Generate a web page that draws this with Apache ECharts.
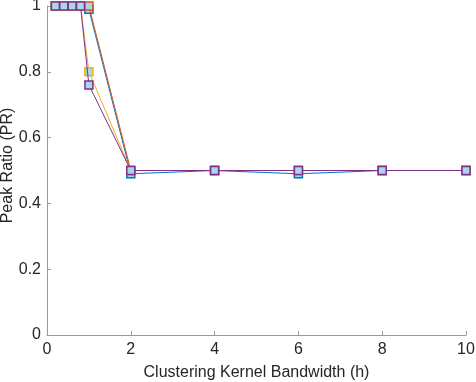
<!DOCTYPE html>
<html><head><meta charset="utf-8">
<script src="https://cdn.jsdelivr.net/npm/echarts@6/dist/echarts.min.js"></script>
<style>html,body{margin:0;padding:0;background:#fff}#c{width:476px;height:382px}</style>
</head><body><div id="c"></div>
<script>
const xValues = [0.2, 0.4, 0.6, 0.8, 1, 2, 4, 6, 8, 10];
const seriesBlue   = [1, 1, 1, 1, 0.99, 0.49, 0.5, 0.49, 0.5, 0.5];
const seriesOrange = [1, 1, 1, 1, 1, 0.5, 0.5, 0.5, 0.5, 0.5];
const seriesYellow = [1, 1, 1, 1, 0.8, 0.5, 0.5, 0.5, 0.5, 0.5];
const seriesPurple = [1, 1, 1, 1, 0.76, 0.5, 0.5, 0.5, 0.5, 0.5];
const seriesNames = ['A', 'B', 'C', 'D'];
const seriesColors = ['#0072BD', '#D95319', '#EDB120', '#7E2F8E'];
const xAxisTitle = 'Clustering Kernel Bandwidth (h)';
const yAxisTitle = 'Peak Ratio (PR)';

const allData = [seriesBlue, seriesOrange, seriesYellow, seriesPurple];
const font = 'Liberation Sans, Arial, Helvetica, sans-serif';
const axisCol = '#9a9a9a';
const textCol = '#262626';

const chart = echarts.init(document.getElementById('c'), null, {renderer: 'canvas'});
chart.setOption({
  animation: false,
  grid: {left: 47, right: 10, top: 6, bottom: 47, containLabel: false, outerBoundsMode: 'none'},
  xAxis: {
    type: 'value', min: 0, max: 10, interval: 2,
    name: xAxisTitle, nameLocation: 'middle', nameGap: 30, nameMoveOverlap: false,
    nameTextStyle: {color: textCol, fontFamily: font, fontSize: 16},
    axisLine: {show: true, lineStyle: {color: axisCol, width: 1}},
    axisTick: {show: true, inside: true, length: 4, lineStyle: {color: axisCol}},
    axisLabel: {color: textCol, fontFamily: font, fontSize: 16, margin: 7},
    splitLine: {show: false}
  },
  yAxis: {
    type: 'value', min: 0, max: 1, interval: 0.2,
    name: yAxisTitle, nameLocation: 'middle', nameGap: 31, nameMoveOverlap: false,
    nameTextStyle: {color: textCol, fontFamily: font, fontSize: 16, padding: [0, 0, 0, 10]},
    axisLine: {show: true, lineStyle: {color: axisCol, width: 1}},
    axisTick: {show: true, inside: true, length: 4, lineStyle: {color: axisCol}},
    axisLabel: {color: textCol, fontFamily: font, fontSize: 16, margin: 6,
      formatter: v => (Math.round(v * 10) / 10).toString()},
    splitLine: {show: false}
  },
  series: allData.map((d, i) => ({
    name: seriesNames[i],
    type: 'line',
    data: xValues.map((x, j) => [x, d[j]]),
    symbol: 'rect',
    symbolSize: 8,
    showAllSymbol: true,
    lineStyle: {color: seriesColors[i], width: 1},
    itemStyle: {color: '#a8d8e8', borderColor: seriesColors[i], borderWidth: 1.5},
    z: 2 + i
  }))
});
</script></body></html>
